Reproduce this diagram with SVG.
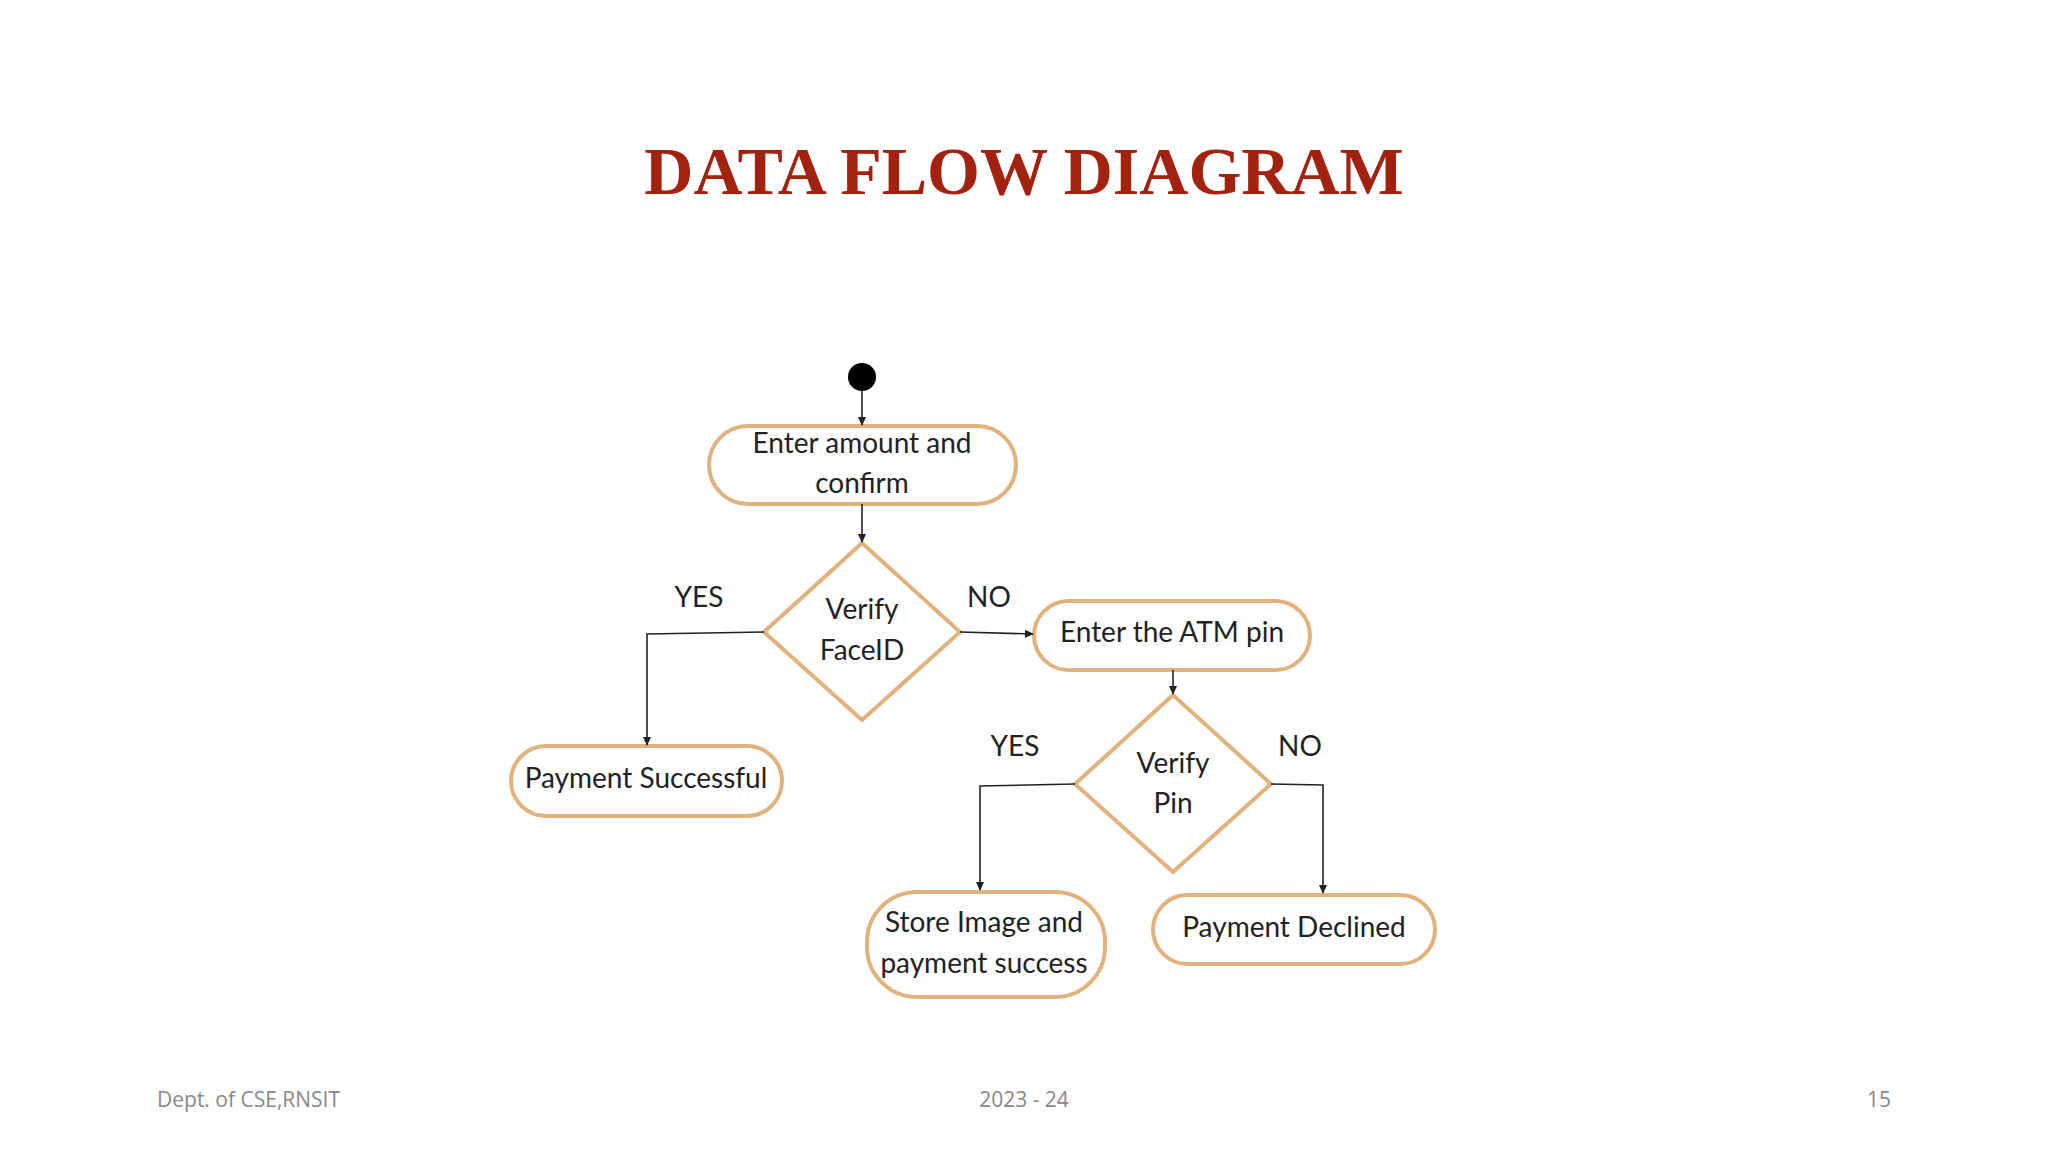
<svg xmlns="http://www.w3.org/2000/svg" width="2048" height="1152" viewBox="0 0 2048 1152">
<style>
.n{fill:#fff;stroke:#e2b27e;stroke-width:4}
.t{font-family:Lato,"Liberation Sans",sans-serif;font-size:28px;fill:#222;text-anchor:middle;dominant-baseline:middle}
.c{fill:none;stroke:#222;stroke-width:1.6}
.f{font-family:"Open Sans","Liberation Sans",sans-serif;font-size:21px;fill:#888}
</style>
<defs><marker id="a" markerWidth="10" markerHeight="10" refX="8" refY="5" orient="auto" markerUnits="userSpaceOnUse"><path d="M0,1 L9,5 L0,9 Z" fill="#222"/></marker></defs>
<rect width="2048" height="1152" fill="#fff"/>
<text x="1024" y="194" text-anchor="middle" font-family="Liberation Serif,serif" font-weight="bold" font-size="68" fill="#a3210f">DATA FLOW DIAGRAM</text>
<g id="start"><circle cx="862" cy="377" r="14" fill="#000"/></g>
<g id="enter"><rect class="n" x="709" y="426" width="307" height="78" rx="39"/><text class="t" x="862" y="446">Enter amount and</text><text class="t" x="862" y="486">confirm</text></g>
<g id="face"><polygon class="n" points="862,543 960,632 862,720 764,632"/><text class="t" x="862" y="612">Verify</text><text class="t" x="862" y="653">FaceID</text></g>
<g id="atm"><rect class="n" x="1034" y="601" width="276" height="69" rx="34.5"/><text class="t" x="1172" y="635">Enter the ATM pin</text></g>
<g id="succ"><rect class="n" x="511" y="746" width="271" height="70" rx="35"/><text class="t" x="646" y="781">Payment Successful</text></g>
<g id="pin"><polygon class="n" points="1173,695 1271,784 1173,872 1075,784"/><text class="t" x="1173" y="766">Verify</text><text class="t" x="1173" y="806">Pin</text></g>
<g id="store"><rect class="n" x="867" y="892" width="238" height="105" rx="50"/><text class="t" x="984" y="925">Store Image and</text><text class="t" x="984" y="966">payment success</text></g>
<g id="decl"><rect class="n" x="1153" y="895" width="282" height="69" rx="34.5"/><text class="t" x="1294" y="930">Payment Declined</text></g>
<g id="connectors">
<path class="c" marker-end="url(#a)" d="M862,391 V425"/>
<path class="c" marker-end="url(#a)" d="M862,504 V542"/>
<path class="c" marker-end="url(#a)" d="M764,632 L647,634 V745"/>
<path class="c" marker-end="url(#a)" d="M960,632 L1033,634"/>
<path class="c" marker-end="url(#a)" d="M1173,670 V694"/>
<path class="c" marker-end="url(#a)" d="M1075,784 L980,786 V890"/>
<path class="c" marker-end="url(#a)" d="M1271,784 L1323,785 V893"/>
<text class="t" x="699" y="600">YES</text><text class="t" x="989" y="600">NO</text>
<text class="t" x="1015" y="749">YES</text><text class="t" x="1300" y="749">NO</text>
</g>
<text class="f" x="157" y="1107">Dept. of CSE,RNSIT</text>
<text class="f" x="1024" y="1107" text-anchor="middle">2023 - 24</text>
<text class="f" x="1891" y="1107" text-anchor="end">15</text>
</svg>
